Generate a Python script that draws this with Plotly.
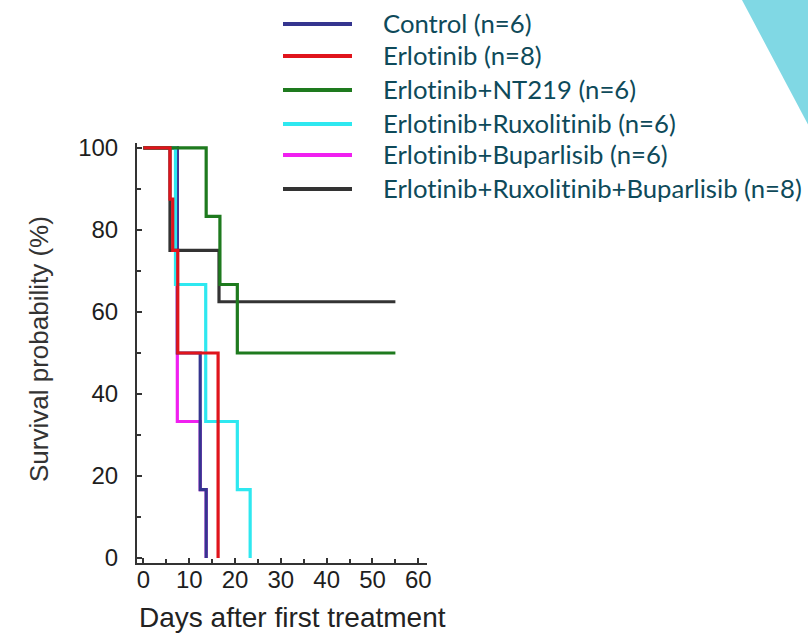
import plotly.graph_objects as go

# Kaplan-Meier survival data (days after first treatment, survival %)
names = [
    "Control (n=6)",
    "Erlotinib (n=8)",
    "Erlotinib+NT219 (n=6)",
    "Erlotinib+Ruxolitinib (n=6)",
    "Erlotinib+Buparlisib (n=6)",
    "Erlotinib+Ruxolitinib+Buparlisib (n=8)",
]
colors = ["#35358f", "#e0141c", "#1e7a1e", "#2ee8f0", "#f020f0", "#333333"]

control_days = [0, 7.4, 12.4, 13.7]
control_surv = [100, 50, 16.7, 0]
erl_days = [0, 5.8, 6.4, 7.5, 16.3]
erl_surv = [100, 87.5, 75, 50, 0]
nt219_days = [0, 13.7, 16.7, 20.5, 55]
nt219_surv = [100, 83.3, 66.7, 50, 50]
rux_days = [0, 7.0, 13.6, 20.5, 23.3]
rux_surv = [100, 66.7, 33.3, 16.7, 0]
bup_days = [0, 7.4, 12.4, 13.7]
bup_surv = [100, 33.3, 16.7, 0]
triple_days = [0, 5.8, 16.5, 55]
triple_surv = [100, 75, 62.5, 62.5]

series = [
    (control_days, control_surv),
    (erl_days, erl_surv),
    (nt219_days, nt219_surv),
    (rux_days, rux_surv),
    (bup_days, bup_surv),
    (triple_days, triple_surv),
]

# plot area in pixels
PL, PR, PT, PB = 137, 427, 143, 563
W, H = PR - PL, PB - PT


def px(x):
    return (x - PL) / W


def py(y):
    return (PB - y) / H


fig = go.Figure()

# stacking order of the curves (bottom to top)
draw_order = [4, 0, 3, 5, 2, 1]
for i in draw_order:
    d, s = series[i]
    fig.add_trace(go.Scatter(
        x=d, y=s, mode="lines", line_shape="hv", name=names[i],
        line=dict(color=colors[i], width=3.2), showlegend=False,
    ))

# legend drawn as line swatches + labels; ZWNJ keeps "t" and "i" unligated
leg_y = [24, 56, 90, 124, 155, 189]
shapes = []
annotations = []
for i, name in enumerate(names):
    shapes.append(dict(type="line", xref="paper", yref="paper",
                       x0=px(283), x1=px(352), y0=py(leg_y[i]), y1=py(leg_y[i]),
                       line=dict(color=colors[i], width=4)))
    annotations.append(dict(xref="paper", yref="paper", x=px(381), y=py(leg_y[i] - 1),
                            text=name.replace("ti", "t\u200ci"), showarrow=False,
                            xanchor="left", yanchor="middle",
                            font=dict(family="Lato", size=25.7, color="#0e4a5a")))

# decorative wedge in the top-right corner
shapes.append(dict(type="path", xref="paper", yref="paper",
                   path=f"M {px(742)} {py(0)} L {px(812)} {py(0)} L {px(812)} {py(132)} Z",
                   fillcolor="#80d8e4", line=dict(width=0), layer="below"))

annotations.append(dict(xref="paper", yref="paper", x=px(292), y=py(617),
                        text="Days after first treatment", showarrow=False,
                        xanchor="center", yanchor="middle",
                        font=dict(family="Liberation Sans", size=28, color="#222222")))
annotations.append(dict(xref="paper", yref="paper", x=px(39), y=py(349),
                        text="Survival probability (%)", showarrow=False, textangle=-90,
                        xanchor="center", yanchor="middle",
                        font=dict(family="Liberation Sans", size=26, color="#333333")))

axis_common = dict(
    showgrid=False, zeroline=False, showline=True, linecolor="#333333", linewidth=2,
    ticks="inside", ticklen=5, tickwidth=1.5, tickcolor="#333333",
    tickfont=dict(family="Liberation Sans", size=24, color="#1e1e1e"),
)

fig.update_layout(
    width=808, height=634,
    margin=dict(l=PL, r=808 - PR, t=PT, b=634 - PB),
    paper_bgcolor="white", plot_bgcolor="white",
    xaxis=dict(range=[-1.4, 61.9], tickvals=[0, 10, 20, 30, 40, 50, 60],
               minor=dict(dtick=5, ticks="inside", ticklen=4, tickcolor="#333333"),
               ticklabelstandoff=-6, **axis_common),
    yaxis=dict(range=[-1.2, 101.2], tickvals=[0, 20, 40, 60, 80, 100],
               minor=dict(dtick=10, ticks="inside", ticklen=4, tickcolor="#333333"),
               ticklabelstandoff=12, **axis_common),
    shapes=shapes, annotations=annotations,
)

fig.write_html("out.html")
